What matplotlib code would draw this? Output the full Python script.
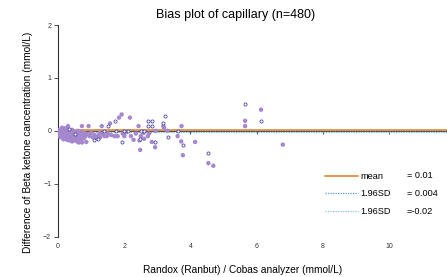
import numpy as np
import matplotlib
matplotlib.use("Agg")
import matplotlib.pyplot as plt
from matplotlib.lines import Line2D

plt.rcParams['font.family'] = ['Liberation Sans', 'DejaVu Sans']

# filled points: capillary bias (x = mean value, y = difference)
fill_x = [0.02, 0.05, 0.05, 0.08, 0.08, 0.10, 0.10, 0.12, 0.13, 0.15, 0.15, 0.18, 0.18, 0.20, 0.20,
          0.22, 0.22, 0.25, 0.25, 0.28, 0.28, 0.30, 0.30, 0.32, 0.33, 0.35, 0.35, 0.38, 0.40, 0.40,
          0.42, 0.42, 0.45, 0.45, 0.48, 0.50, 0.50, 0.52, 0.55, 0.55, 0.58, 0.60, 0.60, 0.62, 0.62,
          0.65, 0.68, 0.70, 0.70, 0.72, 0.72, 0.75, 0.78, 0.80, 0.82, 0.85, 0.88, 0.92, 0.95, 1.00,
          1.05, 1.10, 1.15, 1.20, 1.25, 1.27, 1.32, 1.35, 1.40, 1.47, 1.50, 1.57, 1.60, 1.70, 1.80,
          1.84, 1.92, 1.95, 2.00, 2.05, 2.17, 2.20, 2.28, 2.35, 2.43, 2.48, 2.50, 2.58, 2.60, 2.71,
          2.75, 2.83, 2.93, 2.95, 3.18, 3.20, 3.30, 3.61, 3.73, 3.72, 3.77, 4.14, 4.54, 4.69, 5.65,
          5.65, 6.13, 6.79,
          0.03, 0.06, 0.12, 0.16, 0.24, 0.27, 0.36, 0.44, 0.47, 0.53, 0.57, 0.64, 0.67, 0.74, 0.77]
fill_y = [0.00, -0.02, 0.02, -0.05, 0.00, -0.08, 0.03, -0.03, -0.10, 0.00, -0.06, -0.12, 0.02, -0.04, -0.08,
          0.05, -0.15, -0.02, -0.10, -0.06, 0.03, -0.12, 0.09, -0.04, -0.18, -0.08, 0.00, -0.13, -0.04, -0.10,
          -0.20, 0.02, -0.06, -0.14, -0.10, -0.02, -0.18, -0.08, -0.13, -0.04, -0.20, -0.10, 0.00, -0.15, -0.22,
          -0.06, -0.12, -0.02, -0.18, -0.22, 0.09, -0.08, -0.14, -0.04, -0.10, -0.21, -0.06, 0.09, -0.10, -0.04,
          -0.12, -0.08, -0.14, -0.10, -0.04, -0.12, 0.09, -0.06, -0.10, -0.10, -0.04, 0.14, -0.08, -0.10, -0.10,
          0.25, 0.31, -0.05, -0.10, -0.03, 0.25, -0.10, -0.17, -0.05, 0.09, -0.36, -0.10, -0.04, -0.15, -0.10,
          -0.05, -0.21, -0.31, 0.00, 0.09, 0.06, 0.00, -0.10, 0.09, -0.20, -0.46, -0.21, -0.61, -0.66, 0.19,
          0.09, 0.40, -0.26,
          -0.07, -0.12, 0.06, -0.16, -0.13, -0.17, -0.16, -0.08, -0.17, -0.12, -0.08, -0.10, -0.05, -0.12, -0.08]

# open circles
open_x = [0.33, 0.50, 1.07, 1.22, 1.40, 1.51, 1.72, 1.75, 1.92, 2.00, 2.10, 2.43, 2.48, 2.50, 2.60,
          2.71, 2.83, 2.71, 2.83, 2.93, 3.18, 3.23, 3.33, 3.63, 3.78, 4.54, 5.65, 6.13]
open_y = [0.04, -0.06, -0.17, -0.15, 0.00, 0.09, 0.19, 0.00, -0.21, 0.00, 0.00, -0.17, -0.15, 0.00, 0.00,
          0.19, 0.19, 0.09, 0.09, -0.21, 0.14, 0.29, -0.12, 0.00, -0.26, -0.41, 0.50, 0.19]

mean_val = 0.01
sd_hi = 0.004
sd_lo = -0.02
stat_labels = ["mean", "1.96SD", "1.96SD"]
stat_texts = ["= 0.01", "= 0.004", "=-0.02"]

fig = plt.figure(figsize=(4.47, 2.77), dpi=100)
ax = fig.add_axes([0.13, 0.1455, 0.87, 0.7642])

ax.scatter(fill_x, fill_y, s=10, color="#a487cc", edgecolors="none", zorder=3)
ax.scatter(open_x, open_y, s=5, facecolors="white", edgecolors="#4a46a0", linewidths=0.6, zorder=4)

ax.axhline(mean_val, color="#e07b24", lw=1.1, zorder=2)
ax.axhline(sd_hi, color="#5b9bd5", lw=0.9, ls=(0, (1, 1)), zorder=2)
ax.axhline(sd_lo, color="#7cc8e2", lw=0.9, ls=(0, (1, 1)), zorder=2)

ax.set_xlim(0, 11.75)
ax.set_ylim(-2, 2)
ax.set_xticks([0, 2, 4, 6, 8, 10])
ax.set_yticks([-2, -1, 0, 1, 2])

ax.spines['top'].set_visible(False)
ax.spines['right'].set_visible(False)
ax.spines['bottom'].set_position(('data', 0))
ax.spines['bottom'].set_color("#555555")
ax.spines['left'].set_color("#333333")
ax.tick_params(axis='x', length=2, width=0.6, pad=79, labelsize=5, colors="#333333")
ax.tick_params(axis='y', length=3, width=0.6, pad=2, labelsize=5, colors="#333333")

fig.text(236 / 447, 1 - 15 / 277, "Bias plot of capillary (n=480)", fontsize=9, ha="center", va="center")
ax.set_xlabel("Randox (Ranbut) / Cobas analyzer (mmol/L)", fontsize=7.3, va="center")
ax.xaxis.set_label_coords(0.474, -0.157)
ax.set_ylabel("Difference of Beta ketone cancentration (mmol/L)", fontsize=7.3, va="center")
ax.yaxis.set_label_coords(-0.077, 0.447)

handles = [Line2D([0], [0], color="#e07b24", lw=1.1),
           Line2D([0], [0], color="#5b9bd5", lw=0.9, ls=(0, (1, 1))),
           Line2D([0], [0], color="#7cc8e2", lw=0.9, ls=(0, (1, 1)))]
ax.legend(handles, stat_labels, loc="center left", bbox_to_anchor=(0.686, 0.202),
          frameon=False, fontsize=6.6, handlelength=3.6, labelspacing=0.95, handletextpad=0.3,
          borderpad=0, borderaxespad=0)
for i, t in enumerate(stat_texts):
    ax.text(0.897, 0.287 - i * 0.085, t, transform=ax.transAxes, fontsize=6.6, va="center", ha="left")

fig.savefig("out.png", dpi=100)
